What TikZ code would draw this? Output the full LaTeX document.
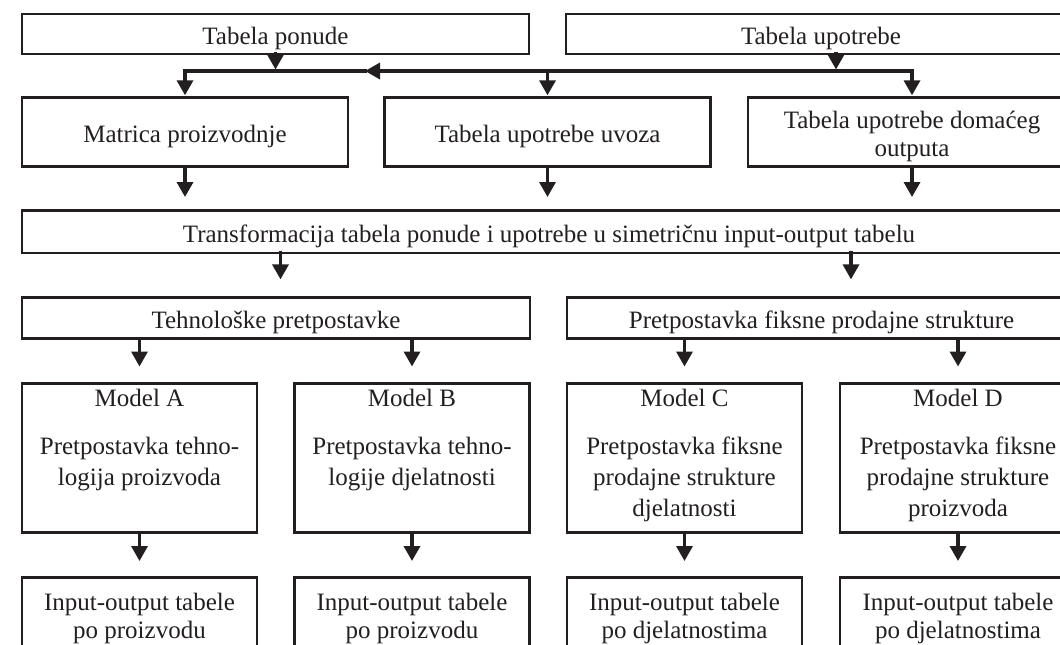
\documentclass[tikz,border=0pt]{standalone}
\usepackage{fontspec}
\setmainfont{Liberation Serif}
\usetikzlibrary{arrows.meta,calc}
\definecolor{ink}{HTML}{231F20}

% Model boxes: title on top, then the assumption text
\newcommand\modeltxt[2]{\parbox[c][149pt][t]{232pt}{\centering\rule{0pt}{23pt}#1\\[17pt]#2}}
% Result boxes: two lines set near the top
\newcommand\restxt[1]{\parbox[c][100pt][t]{232pt}{\centering\rule{0pt}{33pt}#1}}

\begin{document}
\begin{tikzpicture}[x=1pt,y=-1pt,
  frame/.style={draw=ink, line width=2.8pt, inner sep=0pt, outer sep=0pt,
    anchor=north west, text=ink},
  box/.style={frame, align=center, text height=21pt, text depth=0.4pt,
    font=\fontsize{25}{28}\selectfont},
  mbox/.style={frame, minimum width=235pt, font=\fontsize{25}{31}\selectfont},
  rbox/.style={frame, minimum width=235pt, font=\fontsize{25}{28}\selectfont},
  arr/.style={draw=ink, line width=3.4pt, line cap=rect,
    -{Triangle[width=16pt,length=15pt]}},
  link/.style={draw=ink, line width=3.4pt, line cap=rect}]
\useasboundingbox (0,0) rectangle (1060,645);
\clip (0,0) rectangle (1060,645);

% Supply and use tables
\node[box, minimum width=507pt, minimum height=40pt] (pon) at (22,14) {Tabela ponude};
\node[box, minimum width=510pt, minimum height=40pt] (upo) at (566,14) {Tabela upotrebe};

% Derived tables
\node[box, minimum width=326pt, minimum height=69.4pt] (mat) at (22,97.3) {Matrica proizvodnje};
\node[box, minimum width=326pt, minimum height=69.4pt] (uvo) at (384.5,97.3) {Tabela upotrebe uvoza};
\node[box, text height=49pt, minimum width=328pt, minimum height=69.4pt] (dom) at (748,97.3)
  {Tabela upotrebe domaćeg\\outputa};

% Transformation step
\node[box, minimum width=1054pt, minimum height=42.3pt] (tr) at (22,210.7)
  {Transformacija tabela ponude i upotrebe u simetričnu input-output tabelu};

% Assumption groups
\node[box, minimum width=508pt, minimum height=41.4pt] (teh) at (22,297.4) {Tehnološke pretpostavke};
\node[box, minimum width=509pt, minimum height=41.4pt] (pfs) at (567,297.4) {Pretpostavka fiksne prodajne strukture};

% Models
\node[mbox] (ma) at (22,383.5) {\modeltxt{Model A}{Pretpostavka tehno-\\logija proizvoda}};
\node[mbox] (mb) at (294.5,383.5) {\modeltxt{Model B}{Pretpostavka tehno-\\logije djelatnosti}};
\node[mbox] (mc) at (567,383.5) {\modeltxt{Model C}{Pretpostavka fiksne\\prodajne strukture\\djelatnosti}};
\node[mbox, minimum width=236pt] (md) at (840,383.5) {\modeltxt{Model D}{Pretpostavka fiksne\\prodajne strukture\\proizvoda}};

% Resulting tables
\node[rbox] (ra) at (22,577.5) {\restxt{Input-output tabele\\po proizvodu}};
\node[rbox] (rb) at (294.5,577.5) {\restxt{Input-output tabele\\po proizvodu}};
\node[rbox] (rc) at (567,577.5) {\restxt{Input-output tabele\\po djelatnostima}};
\node[rbox, minimum width=236pt] (rd) at (840,577.5) {\restxt{Input-output tabele\\po djelatnostima}};

% Distribution bus below the supply and use tables
\coordinate (bus) at (0,71);
\coordinate (busTip) at (365,71);
\draw[arr] (pon.south) -- ($(pon.south |- bus)+(0,-1.5)$);
\draw[arr] ($(upo.south)+(15,0)$) -- ($(upo.south |- bus)+(15,-1.5)$);
\draw[arr] (dom.north |- bus) -- (busTip);
\draw[arr] (busTip) -| ($(mat.north)+(0,-2)$);
\draw[arr] (uvo.north |- bus) -- ($(uvo.north)+(0,-2)$);
\draw[arr] (dom.north |- bus) -- ($(dom.north)+(0,-2)$);

% Derived tables into the transformation
\foreach \n in {mat,uvo,dom}
  \draw[arr] (\n.south) -- ($(\n.south |- tr.north)+(0,-13.7)$);

% Transformation into the assumption groups
\draw[arr] ($(tr.south -| teh.north)+(4.5,0)$) -- ($(teh.north)+(4.5,-18)$);
\draw[arr] ($(tr.south -| pfs.north)+(29.5,0)$) -- ($(pfs.north)+(29.5,-18)$);

% Assumption groups into the models
\draw[arr] (teh.south -| ma.north) -- ($(ma.north)+(0,-17)$);
\draw[arr] (teh.south -| mb.north) -- ($(mb.north)+(0,-17)$);
\draw[arr] (pfs.south -| mc.north) -- ($(mc.north)+(0,-17)$);
\draw[arr] (pfs.south -| md.north) -- ($(md.north)+(0,-17)$);

% Models into the resulting tables
\draw[arr] (ma.south) -- ($(ra.north)+(0,-16.5)$);
\draw[arr] (mb.south) -- ($(rb.north)+(0,-16.5)$);
\draw[arr] (mc.south) -- ($(rc.north)+(0,-16.5)$);
\draw[arr] (md.south) -- ($(rd.north)+(0,-16.5)$);
\end{tikzpicture}
\end{document}
